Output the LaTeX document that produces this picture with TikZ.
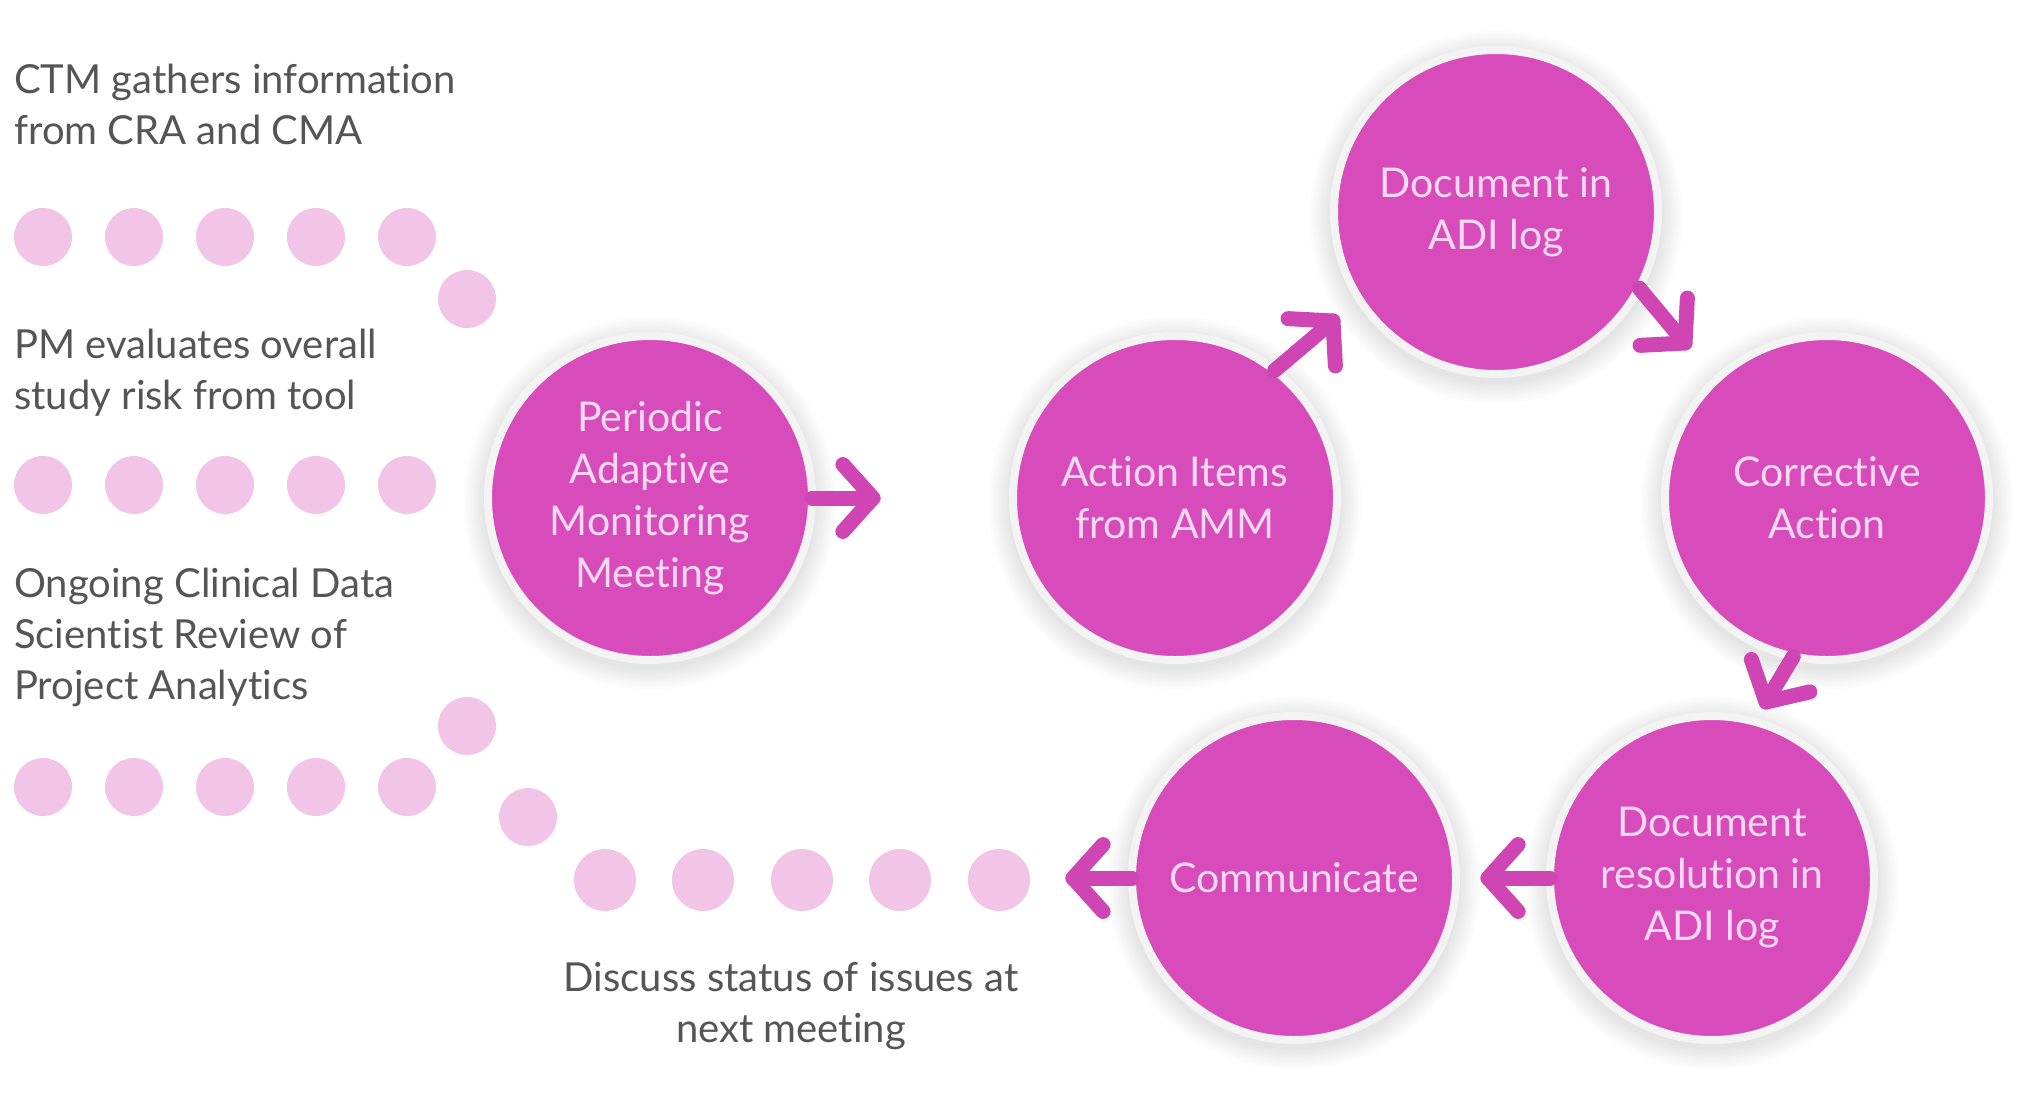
\documentclass[tikz,border=0pt]{standalone}
\usepackage{fontspec}
\setmainfont{Lato}[Ligatures=NoCommon]
\usetikzlibrary{positioning,calc,backgrounds}

\definecolor{stagefill}{HTML}{D84BBA}
\definecolor{stagering}{HTML}{F3F3F3}
\definecolor{stagetext}{HTML}{FADAF2}
\definecolor{flowpink}{HTML}{CF45B3}
\definecolor{dotpink}{HTML}{F2C4E8}
\definecolor{notegray}{HTML}{555555}

\tikzset{
  stage/.style={circle, fill=stagefill, draw=stagering, line width=8pt,
    minimum size=324pt, inner sep=0pt, outer sep=0pt, text=stagetext,
    align=center, font=\fontsize{41}{52}\selectfont},
  note/.style={text=notegray, inner sep=0pt, font=\fontsize{40}{51}\selectfont},
  flow/.style={draw=flowpink, line width=15pt, line cap=round, line join=round},
  dot/.style={fill=dotpink}
}

% chevron head: #1 tip, #2 direction back along the shaft
\newcommand{\chevron}[2]{\draw[flow] (#1) ++(#2+48:45) -- (#1) -- ++(#2-48:45);}

\begin{document}
\begin{tikzpicture}[x=1pt,y=1pt]
    \useasboundingbox (0,0) rectangle (2040,-1093);

    % Stages
    \node[stage] (pam) at (650,-498) {Periodic\\Adaptive\\Monitoring\\Meeting};
    \node[stage] (act) at (1175,-498) {Action Items\\from AMM};
    \node[stage] (adi) at (1496,-212) {Document in\\ADI log};
    \node[stage] (cor) at (1827,-498) {Corrective\\Action};
    \node[stage] (dres) at (1712,-878) {Document\\resolution in\\ADI log};
    \node[stage] (com) at (1294,-878) {Communicate};

    % Soft shadows behind the stages
    \begin{scope}[on background layer]
        \fill[white] (0,0) rectangle (2040,-1093);
        \foreach \n in {pam,act,adi,cor,dres,com}
            \foreach \k in {1,...,9}
                \fill[black, opacity=0.012] ([yshift=-5pt]\n.center) circle [radius=164pt+2.5pt*\k];
    \end{scope}

    % Inputs (base = last line)
    \node[note, anchor=base west, align=left] (ctm) at (14,-144) {CTM gathers information\\from CRA and CMA};
    \node[note, anchor=base west, align=left] (pm) at (14,-409) {PM evaluates overall\\study risk from tool};
    \node[note, anchor=base west, align=left] (cds) at (14,-699) {Ongoing Clinical Data\\Scientist Review of\\Project Analytics};
    \node[note, anchor=base, align=center] (nxt) at (791,-1042) {Discuss status of issues at\\next meeting};

    % Dotted trails
    \foreach \y in {237,485,787}
        \foreach \x in {43,134,225,316,407}
            \fill[dot] (\x,-\y) circle [radius=29pt];
    \fill[dot] (467,-299) circle [radius=29pt];
    \fill[dot] (467,-726) circle [radius=29pt];
    \fill[dot] (528,-817) circle [radius=29pt];
    \foreach \x in {605,703,802,900,999}
        \fill[dot] (\x,-880) circle [radius=31pt];

    % Flow arrows
    \coordinate (t1) at (873,-498);
    \draw[flow] (pam.east) -- (t1); \chevron{t1}{180}
    \coordinate (t2) at (1333,-321);
    \draw[flow] (act.52) -- (t2); \chevron{t2}{225}
    \coordinate (t3) at (1685,-343);
    \draw[flow] (adi.-28) -- (t3); \chevron{t3}{135}
    \coordinate (t4) at (1766,-702);
    \draw[flow] (cor.-102) -- (t4); \chevron{t4}{61}
    \coordinate (t5) at (1488,-878);
    \draw[flow] (dres.west) -- (t5); \chevron{t5}{0}
    \coordinate (t6) at (1073,-878);
    \draw[flow] (com.west) -- (t6); \chevron{t6}{0}
\end{tikzpicture}
\end{document}
